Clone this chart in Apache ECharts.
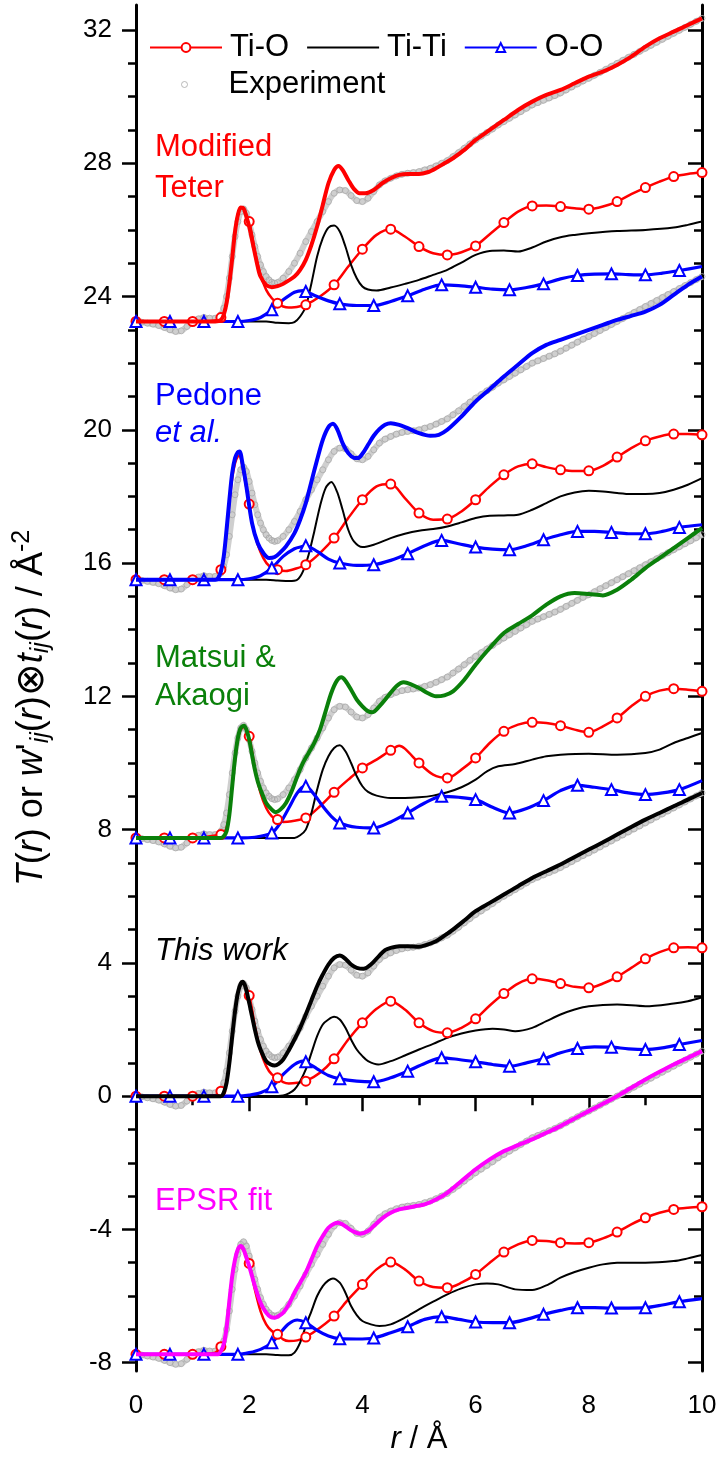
<!DOCTYPE html>
<html>
<head>
<meta charset="utf-8">
<script src="https://cdn.jsdelivr.net/npm/echarts@6/dist/echarts.min.js"></script>
<style>
  html, body { margin: 0; padding: 0; background: #fff; }
  #chart { width: 722px; height: 1460px; }
</style>
</head>
<body>
<div id="chart"></div>
<script>
const FONT = '"Liberation Sans", Arial, Helvetica, sans-serif';

// Axis ticks
const xTickLabels = [0, 2, 4, 6, 8, 10];
const yMajorTicks = [-8, -4, 0, 4, 8, 12, 16, 20, 24, 28, 32];
const yMinorTicks = [-8, -7, -6, -5, -4, -3, -2, -1, 0, 1, 2, 3, 4, 5, 6, 7, 8, 9, 10, 11, 12,
  13, 14, 15, 16, 17, 18, 19, 20, 21, 22, 23, 24, 25, 26, 27, 28, 29, 30, 31, 32];

// Panels, top to bottom: label, vertical offset of the curve set, colour of the total T(r)
const panelLabels = [['Modified', 'Teter'], ['Pedone', 'et al.'], ['Matsui &', 'Akaogi'], ['This work'], ['EPSR fit']];
const panelOffsets = [23.25, 15.5, 7.75, 0, -7.75];
const panelColors = ['#ff0000', '#0000ff', '#0a800a', '#000000', '#ff00ff'];

// Experimental T(r), [r, T] before offset
const experiment = [
  [0, 0], [0.1, -0.02], [0.2, -0.05], [0.3, -0.08], [0.4, -0.12], [0.5, -0.18], [0.6, -0.25],
  [0.7, -0.3], [0.8, -0.28], [0.9, -0.15], [1.0, -0.02], [1.1, 0.08], [1.2, 0.12], [1.3, 0.1],
  [1.4, 0.1], [1.5, 0.2], [1.55, 0.4], [1.6, 0.75], [1.65, 1.3], [1.7, 1.95], [1.75, 2.55],
  [1.8, 3.0], [1.85, 3.3], [1.9, 3.38], [1.95, 3.25], [2.0, 2.95], [2.05, 2.6], [2.1, 2.25],
  [2.15, 1.95], [2.2, 1.7], [2.25, 1.5], [2.3, 1.35], [2.35, 1.25], [2.4, 1.18], [2.45, 1.15],
  [2.5, 1.17], [2.6, 1.3], [2.7, 1.5], [2.8, 1.75], [2.9, 2.05], [3.0, 2.4], [3.1, 2.7],
  [3.2, 3.0], [3.3, 3.3], [3.4, 3.6], [3.5, 3.85], [3.6, 3.95], [3.7, 3.93], [3.8, 3.78],
  [3.9, 3.63], [4.0, 3.6], [4.1, 3.7], [4.2, 3.9], [4.3, 4.1], [4.4, 4.22], [4.5, 4.3],
  [4.6, 4.37], [4.7, 4.42], [4.8, 4.45], [4.9, 4.47], [5.0, 4.5], [5.1, 4.55], [5.2, 4.6],
  [5.3, 4.67], [5.4, 4.75], [5.5, 4.83], [5.6, 4.95], [5.7, 5.07], [5.8, 5.2], [5.9, 5.33],
  [6.0, 5.45], [6.1, 5.56], [6.2, 5.67], [6.3, 5.78], [6.4, 5.9], [6.5, 6.0], [6.6, 6.1],
  [6.7, 6.2], [6.8, 6.3], [6.9, 6.4], [7.0, 6.5], [7.1, 6.57], [7.2, 6.64], [7.3, 6.71],
  [7.4, 6.78], [7.5, 6.86], [7.6, 6.95], [7.7, 7.04], [7.8, 7.13], [7.9, 7.22], [8.0, 7.3],
  [8.1, 7.39], [8.2, 7.48], [8.3, 7.57], [8.4, 7.66], [8.5, 7.75], [8.6, 7.84], [8.7, 7.93],
  [8.8, 8.02], [8.9, 8.11], [9.0, 8.2], [9.1, 8.29], [9.2, 8.38], [9.3, 8.47], [9.4, 8.56],
  [9.5, 8.65], [9.6, 8.74], [9.7, 8.83], [9.8, 8.92], [9.9, 9.01], [10, 9.1]
];

// ---- Modified Teter ----
const totalTeter = [[0,0],[1.4,0],[1.5,0.05],[1.55,0.2],[1.6,0.55],[1.65,1.15],[1.7,1.9],[1.75,2.7],[1.8,3.2],[1.85,3.42],[1.9,3.4],[1.95,3.15],[2.0,2.85],[2.05,2.45],[2.1,2.05],[2.15,1.65],[2.2,1.35],[2.3,1.1],[2.4,1.03],[2.5,1.06],[2.6,1.13],[2.8,1.35],[2.9,1.55],[3.0,1.85],[3.1,2.3],[3.2,2.85],[3.3,3.5],[3.4,4.15],[3.5,4.55],[3.58,4.67],[3.65,4.55],[3.75,4.25],[3.85,3.98],[3.95,3.85],[4.05,3.85],[4.2,3.95],[4.35,4.15],[4.5,4.3],[4.65,4.4],[4.8,4.43],[5.0,4.43],[5.15,4.48],[5.3,4.6],[5.45,4.75],[5.6,4.9],[5.8,5.15],[6.0,5.45],[6.25,5.75],[6.5,6.05],[6.75,6.35],[7.0,6.6],[7.25,6.8],[7.5,6.95],[7.75,7.15],[8.0,7.35],[8.25,7.5],[8.5,7.7],[8.75,7.95],[9.0,8.25],[9.25,8.5],[9.5,8.7],[9.75,8.9],[10,9.1]];
const tioTeter = [[0,0],[0.5,0],[1.0,0],[1.4,0.03],[1.5,0.12],[1.55,0.25],[1.6,0.6],[1.65,1.15],[1.7,1.9],[1.75,2.7],[1.8,3.2],[1.85,3.42],[1.9,3.4],[1.95,3.2],[2.0,3.0],[2.05,2.6],[2.1,2.1],[2.2,1.4],[2.3,0.95],[2.4,0.7],[2.5,0.55],[2.6,0.45],[2.7,0.42],[2.8,0.43],[2.9,0.46],[3.0,0.5],[3.25,0.75],[3.5,1.1],[3.75,1.65],[4.0,2.17],[4.25,2.6],[4.5,2.77],[4.75,2.55],[5.0,2.25],[5.25,2.05],[5.5,2.0],[5.75,2.08],[6.0,2.27],[6.25,2.62],[6.5,2.97],[6.75,3.3],[7.0,3.47],[7.25,3.48],[7.5,3.45],[7.75,3.4],[8.0,3.37],[8.25,3.45],[8.5,3.6],[8.75,3.82],[9.0,4.02],[9.25,4.2],[9.5,4.35],[9.75,4.43],[10,4.47]];
const titiTeter = [[0,0],[2.3,0],[2.5,-0.04],[2.7,-0.05],[2.8,-0.02],[2.9,0.15],[3.0,0.45],[3.1,1.15],[3.2,1.95],[3.3,2.5],[3.4,2.82],[3.5,2.88],[3.6,2.7],[3.7,2.25],[3.8,1.7],[3.9,1.3],[4.0,1.05],[4.1,0.96],[4.25,0.93],[4.5,1.02],[4.75,1.13],[5.0,1.25],[5.25,1.4],[5.5,1.55],[5.75,1.77],[6.0,2.0],[6.25,2.12],[6.5,2.13],[6.75,2.1],[7.0,2.22],[7.25,2.4],[7.5,2.53],[7.75,2.6],[8.0,2.65],[8.5,2.72],[9.0,2.75],[9.5,2.82],[9.75,2.9],[10,3.0]];
const ooTeter = [[0,0],[0.6,0],[1.2,0],[1.8,0],[2.0,0.03],[2.2,0.12],[2.4,0.35],[2.6,0.65],[2.8,0.88],[2.95,0.93],[3.0,0.9],[3.2,0.75],[3.4,0.62],[3.6,0.53],[3.9,0.48],[4.2,0.48],[4.5,0.6],[4.8,0.77],[5.1,0.97],[5.4,1.1],[5.7,1.08],[6.0,1.03],[6.3,0.97],[6.6,0.95],[6.9,1.02],[7.2,1.13],[7.5,1.28],[7.8,1.38],[8.1,1.42],[8.4,1.43],[8.7,1.41],[9.0,1.4],[9.3,1.45],[9.6,1.53],[10,1.65]];

// ---- Pedone et al. ----
const totalPedone = [[0,0],[1.4,0],[1.45,0.05],[1.5,0.25],[1.55,0.7],[1.6,1.5],[1.65,2.4],[1.7,3.2],[1.75,3.65],[1.8,3.83],[1.83,3.85],[1.88,3.5],[1.95,2.8],[2.05,1.7],[2.15,1.1],[2.25,0.8],[2.35,0.65],[2.45,0.68],[2.55,0.82],[2.65,1.0],[2.8,1.4],[2.9,1.8],[3.0,2.3],[3.1,2.95],[3.2,3.6],[3.3,4.2],[3.4,4.58],[3.48,4.68],[3.56,4.5],[3.65,4.1],[3.75,3.8],[3.85,3.66],[3.92,3.65],[4.0,3.78],[4.1,4.05],[4.2,4.32],[4.3,4.52],[4.4,4.65],[4.5,4.7],[4.65,4.65],[4.8,4.55],[5.0,4.4],[5.2,4.32],[5.35,4.35],[5.5,4.5],[5.75,4.9],[6.0,5.35],[6.25,5.72],[6.5,6.1],[6.75,6.45],[7.0,6.8],[7.25,7.05],[7.5,7.2],[7.75,7.35],[8.0,7.5],[8.25,7.65],[8.5,7.8],[8.75,7.92],[9.0,8.05],[9.25,8.25],[9.5,8.55],[9.75,8.85],[10,9.1]];
const tioPedone = [[0,0],[0.5,0],[1.0,0],[1.4,0],[1.45,0.05],[1.5,0.3],[1.55,0.7],[1.6,1.45],[1.65,2.3],[1.7,3.05],[1.75,3.5],[1.8,3.7],[1.83,3.72],[1.88,3.4],[1.95,2.75],[2.0,2.27],[2.05,1.7],[2.15,1.05],[2.25,0.65],[2.35,0.42],[2.5,0.3],[2.65,0.26],[2.8,0.32],[3.0,0.45],[3.25,0.8],[3.5,1.25],[3.75,1.85],[4.0,2.4],[4.25,2.8],[4.5,2.87],[4.75,2.45],[5.0,2.0],[5.25,1.8],[5.5,1.82],[5.75,2.05],[6.0,2.4],[6.25,2.8],[6.5,3.15],[6.75,3.4],[7.0,3.48],[7.25,3.38],[7.5,3.3],[7.75,3.26],[8.0,3.27],[8.25,3.42],[8.5,3.68],[8.75,3.95],[9.0,4.17],[9.25,4.3],[9.5,4.37],[9.75,4.37],[10,4.35]];
const titiPedone = [[0,0],[2.3,0],[2.5,-0.02],[2.7,-0.04],[2.85,0.0],[2.95,0.25],[3.05,0.75],[3.15,1.45],[3.25,2.2],[3.35,2.75],[3.45,2.93],[3.55,2.65],[3.65,2.1],[3.75,1.5],[3.85,1.15],[4.0,0.98],[4.2,1.05],[4.5,1.25],[4.75,1.38],[5.0,1.47],[5.25,1.52],[5.5,1.6],[5.75,1.72],[6.0,1.85],[6.25,1.92],[6.5,1.93],[6.75,1.95],[7.0,2.1],[7.25,2.3],[7.5,2.5],[7.75,2.62],[8.0,2.67],[8.25,2.65],[8.5,2.6],[8.75,2.57],[9.0,2.57],[9.25,2.6],[9.5,2.7],[9.75,2.85],[10,3.05]];
const ooPedone = [[0,0],[0.6,0],[1.2,0],[1.8,0],[2.0,0.03],[2.2,0.12],[2.4,0.35],[2.6,0.7],[2.8,0.93],[2.95,1.0],[3.0,1.02],[3.2,0.85],[3.4,0.62],[3.6,0.5],[3.9,0.43],[4.2,0.45],[4.5,0.58],[4.8,0.78],[5.1,1.02],[5.4,1.18],[5.7,1.08],[6.0,0.98],[6.3,0.92],[6.6,0.9],[6.9,1.02],[7.2,1.2],[7.5,1.35],[7.8,1.45],[8.1,1.45],[8.4,1.42],[8.7,1.38],[9.0,1.38],[9.3,1.45],[9.6,1.57],[10,1.65]];

// ---- Matsui & Akaogi ----
const totalMatsui = [[0,0],[1.5,0],[1.55,0.05],[1.6,0.2],[1.65,0.7],[1.7,1.55],[1.75,2.4],[1.8,3.0],[1.85,3.3],[1.91,3.37],[1.96,3.2],[2.0,2.95],[2.05,2.5],[2.1,2.05],[2.15,1.7],[2.2,1.45],[2.3,1.05],[2.4,0.85],[2.47,0.77],[2.55,0.85],[2.65,1.05],[2.75,1.4],[2.85,1.85],[2.95,2.25],[3.05,2.55],[3.15,2.85],[3.25,3.25],[3.35,3.8],[3.45,4.35],[3.55,4.72],[3.63,4.82],[3.7,4.72],[3.8,4.45],[3.9,4.15],[4.0,3.95],[4.1,3.8],[4.17,3.77],[4.3,3.95],[4.45,4.25],[4.6,4.55],[4.73,4.67],[4.85,4.62],[5.0,4.5],[5.15,4.35],[5.3,4.25],[5.45,4.28],[5.6,4.4],[5.8,4.75],[6.0,5.2],[6.25,5.7],[6.5,6.15],[6.75,6.42],[7.0,6.68],[7.25,7.0],[7.5,7.25],[7.75,7.35],[8.0,7.32],[8.25,7.28],[8.5,7.45],[8.75,7.75],[9.0,8.1],[9.25,8.4],[9.5,8.7],[9.75,9.0],[10,9.3]];
const tioMatsui = [[0,0],[0.5,0],[1.0,0],[1.5,0.1],[1.55,0.15],[1.6,0.3],[1.65,0.75],[1.7,1.55],[1.75,2.35],[1.8,2.95],[1.85,3.25],[1.91,3.33],[1.96,3.2],[2.0,3.05],[2.05,2.6],[2.1,2.1],[2.2,1.35],[2.3,0.9],[2.4,0.65],[2.5,0.55],[2.6,0.48],[2.75,0.5],[3.0,0.6],[3.25,0.95],[3.5,1.37],[3.75,1.75],[4.0,2.1],[4.25,2.35],[4.5,2.63],[4.65,2.77],[4.75,2.68],[5.0,2.25],[5.25,1.9],[5.5,1.8],[5.75,2.05],[6.0,2.4],[6.25,2.85],[6.5,3.2],[6.75,3.4],[7.0,3.47],[7.25,3.45],[7.5,3.37],[7.75,3.25],[8.0,3.17],[8.25,3.35],[8.5,3.6],[8.75,3.95],[9.0,4.25],[9.25,4.42],[9.5,4.48],[9.75,4.45],[10,4.4]];
const titiMatsui = [[0,0],[2.5,0],[2.8,0],[2.9,0.08],[3.0,0.25],[3.1,0.75],[3.2,1.45],[3.3,2.05],[3.4,2.45],[3.5,2.7],[3.6,2.78],[3.7,2.6],[3.8,2.25],[3.9,1.85],[4.0,1.55],[4.1,1.38],[4.25,1.27],[4.5,1.2],[4.75,1.2],[5.0,1.22],[5.25,1.27],[5.5,1.37],[5.75,1.52],[6.0,1.75],[6.2,2.0],[6.4,2.15],[6.7,2.22],[7.0,2.35],[7.25,2.45],[7.5,2.5],[8.0,2.53],[8.5,2.5],[9.0,2.55],[9.25,2.65],[9.5,2.85],[9.75,3.0],[10,3.15]];
const ooMatsui = [[0,0],[0.6,0],[1.2,0],[1.8,0],[2.1,0.02],[2.4,0.15],[2.55,0.45],[2.7,0.9],[2.85,1.35],[2.97,1.55],[3.0,1.55],[3.15,1.3],[3.3,0.95],[3.45,0.65],[3.6,0.45],[3.9,0.32],[4.2,0.3],[4.5,0.48],[4.8,0.75],[5.1,1.05],[5.4,1.25],[5.7,1.22],[6.0,1.15],[6.3,0.92],[6.6,0.75],[6.9,0.88],[7.2,1.12],[7.5,1.42],[7.8,1.58],[8.1,1.52],[8.4,1.45],[8.7,1.35],[9.0,1.3],[9.3,1.35],[9.6,1.45],[10,1.72]];

// ---- This work ----
const totalThis = [[0,0],[1.5,0],[1.55,0.1],[1.6,0.4],[1.65,1.0],[1.7,1.8],[1.75,2.55],[1.8,3.1],[1.85,3.38],[1.88,3.43],[1.93,3.3],[2.0,2.8],[2.05,2.4],[2.1,2.0],[2.15,1.65],[2.2,1.4],[2.3,1.05],[2.38,0.95],[2.45,0.92],[2.52,0.97],[2.6,1.1],[2.7,1.38],[2.8,1.7],[2.9,2.05],[3.0,2.45],[3.1,2.88],[3.2,3.3],[3.3,3.65],[3.4,3.95],[3.5,4.15],[3.6,4.22],[3.7,4.12],[3.8,3.95],[3.9,3.85],[4.02,3.82],[4.15,3.95],[4.3,4.22],[4.4,4.38],[4.5,4.45],[4.65,4.5],[4.8,4.5],[5.0,4.48],[5.15,4.55],[5.3,4.65],[5.45,4.82],[5.6,5.0],[5.8,5.27],[6.0,5.55],[6.25,5.8],[6.5,6.05],[6.75,6.3],[7.0,6.55],[7.25,6.75],[7.5,6.95],[7.75,7.18],[8.0,7.4],[8.25,7.62],[8.5,7.85],[8.75,8.08],[9.0,8.3],[9.25,8.5],[9.5,8.7],[9.75,8.9],[10,9.1]];
const tioThis = [[0,0],[0.5,0],[1.0,0],[1.4,0.03],[1.5,0.15],[1.55,0.2],[1.6,0.45],[1.65,1.0],[1.7,1.8],[1.75,2.55],[1.8,3.1],[1.85,3.38],[1.88,3.42],[1.93,3.32],[2.0,3.02],[2.05,2.6],[2.1,2.1],[2.2,1.35],[2.3,0.9],[2.4,0.65],[2.5,0.55],[2.6,0.42],[2.7,0.38],[2.85,0.4],[3.0,0.45],[3.25,0.7],[3.5,1.12],[3.75,1.7],[4.0,2.2],[4.25,2.62],[4.5,2.85],[4.75,2.6],[5.0,2.2],[5.25,1.95],[5.5,1.9],[5.75,2.05],[6.0,2.32],[6.25,2.72],[6.5,3.08],[6.75,3.38],[7.0,3.52],[7.25,3.48],[7.5,3.38],[7.75,3.28],[8.0,3.25],[8.25,3.38],[8.5,3.58],[8.75,3.85],[9.0,4.12],[9.25,4.32],[9.5,4.45],[9.75,4.47],[10,4.45]];
const titiThis = [[0,0],[2.4,0],[2.6,0.02],[2.7,0.08],[2.8,0.2],[2.9,0.45],[3.0,0.8],[3.1,1.3],[3.2,1.8],[3.3,2.15],[3.4,2.3],[3.5,2.38],[3.6,2.3],[3.7,2.05],[3.8,1.7],[3.9,1.4],[4.0,1.2],[4.1,1.05],[4.28,0.95],[4.5,1.05],[4.75,1.22],[5.0,1.4],[5.25,1.57],[5.5,1.75],[5.75,1.88],[6.0,1.97],[6.3,2.02],[6.5,2.0],[6.7,1.95],[7.0,2.05],[7.25,2.25],[7.5,2.45],[7.75,2.6],[8.0,2.7],[8.5,2.75],[9.0,2.7],[9.5,2.78],[9.75,2.85],[10,2.97]];
const ooThis = [[0,0],[0.6,0],[1.2,0],[1.8,0],[2.0,0.03],[2.2,0.1],[2.4,0.28],[2.6,0.65],[2.8,0.95],[2.95,1.05],[3.0,1.03],[3.2,0.82],[3.4,0.62],[3.6,0.52],[3.9,0.45],[4.2,0.43],[4.5,0.55],[4.8,0.75],[5.1,0.98],[5.4,1.15],[5.7,1.1],[6.0,1.03],[6.3,0.95],[6.6,0.9],[6.9,1.0],[7.2,1.12],[7.5,1.3],[7.8,1.43],[8.1,1.48],[8.4,1.47],[8.7,1.42],[9.0,1.4],[9.3,1.45],[9.6,1.55],[10,1.67]];

// ---- EPSR fit ----
const totalEpsr = [[0,0],[1.45,0],[1.5,0.1],[1.55,0.3],[1.6,0.8],[1.65,1.6],[1.7,2.35],[1.75,2.85],[1.8,3.15],[1.85,3.25],[1.9,3.15],[1.95,2.9],[2.0,2.65],[2.05,2.35],[2.1,2.05],[2.2,1.55],[2.3,1.25],[2.38,1.12],[2.45,1.1],[2.52,1.15],[2.6,1.25],[2.7,1.5],[2.8,1.85],[2.9,2.15],[3.0,2.45],[3.1,2.85],[3.2,3.25],[3.3,3.55],[3.4,3.8],[3.5,3.92],[3.57,3.95],[3.65,3.9],[3.75,3.78],[3.85,3.68],[3.96,3.62],[4.1,3.7],[4.2,3.85],[4.35,4.08],[4.5,4.25],[4.65,4.35],[4.8,4.4],[4.95,4.45],[5.1,4.5],[5.3,4.65],[5.5,4.85],[5.75,5.2],[6.0,5.55],[6.25,5.85],[6.5,6.1],[6.75,6.28],[7.0,6.45],[7.25,6.65],[7.5,6.85],[7.75,7.08],[8.0,7.3],[8.25,7.52],[8.5,7.75],[8.75,8.0],[9.0,8.25],[9.25,8.48],[9.5,8.7],[9.75,8.9],[10,9.1]];
const tioEpsr = [[0,0],[0.5,0],[1.0,0],[1.4,0.05],[1.5,0.23],[1.55,0.35],[1.6,0.8],[1.65,1.6],[1.7,2.35],[1.75,2.85],[1.8,3.15],[1.85,3.22],[1.9,3.12],[1.95,2.95],[2.0,2.73],[2.05,2.35],[2.1,1.95],[2.2,1.3],[2.3,0.9],[2.4,0.7],[2.5,0.6],[2.6,0.45],[2.7,0.4],[2.85,0.42],[3.0,0.52],[3.25,0.8],[3.5,1.15],[3.75,1.65],[4.0,2.1],[4.25,2.55],[4.5,2.77],[4.75,2.55],[5.0,2.2],[5.25,2.02],[5.5,2.0],[5.75,2.15],[6.0,2.4],[6.25,2.75],[6.5,3.07],[6.75,3.3],[7.0,3.42],[7.25,3.4],[7.5,3.35],[7.75,3.33],[8.0,3.35],[8.25,3.48],[8.5,3.67],[8.75,3.9],[9.0,4.1],[9.25,4.25],[9.5,4.35],[9.75,4.4],[10,4.43]];
const titiEpsr = [[0,0],[2.3,0],[2.5,-0.02],[2.7,-0.03],[2.8,0.05],[2.9,0.35],[3.0,0.85],[3.1,1.3],[3.2,1.75],[3.3,2.05],[3.4,2.22],[3.48,2.28],[3.6,2.15],[3.7,1.85],[3.8,1.45],[3.9,1.18],[4.0,1.0],[4.15,0.9],[4.3,0.85],[4.5,0.9],[4.75,1.1],[5.0,1.35],[5.25,1.58],[5.5,1.8],[5.75,1.98],[6.0,2.1],[6.2,2.13],[6.4,2.1],[6.7,1.95],[7.0,1.93],[7.25,2.07],[7.5,2.3],[7.75,2.47],[8.0,2.6],[8.25,2.7],[8.5,2.75],[9.0,2.75],[9.5,2.8],[9.75,2.88],[10,2.98]];
const ooEpsr = [[0,0],[0.6,0],[1.2,0],[1.8,0],[2.0,0.05],[2.2,0.15],[2.4,0.35],[2.55,0.65],[2.7,0.92],[2.85,1.03],[3.0,0.95],[3.2,0.72],[3.4,0.55],[3.6,0.47],[3.9,0.46],[4.2,0.49],[4.5,0.65],[4.8,0.83],[5.1,1.05],[5.4,1.13],[5.7,1.05],[6.0,0.97],[6.3,0.95],[6.6,0.95],[6.9,1.05],[7.2,1.2],[7.5,1.32],[7.8,1.4],[8.1,1.4],[8.4,1.39],[8.7,1.39],[9.0,1.4],[9.3,1.48],[9.6,1.58],[10,1.67]];

const totals = [totalTeter, totalPedone, totalMatsui, totalThis, totalEpsr];
const tiO = [tioTeter, tioPedone, tioMatsui, tioThis, tioEpsr];
const tiTi = [titiTeter, titiPedone, titiMatsui, titiThis, titiEpsr];
const oO = [ooTeter, ooPedone, ooMatsui, ooThis, ooEpsr];

// marker spacing along r for the partial curves
const TIO_MARK_STEP = 0.5;
const OO_MARK_STEP = 0.6;

function shift(points, off) {
  return points.map(p => [p[0], +(p[1] + off).toFixed(4)]);
}
function onGrid(r, step) {
  const k = r / step;
  return Math.abs(k - Math.round(k)) < 1e-6;
}
function withMarkers(points, off, step, symbol) {
  return points.map(p => ({
    value: [p[0], +(p[1] + off).toFixed(4)],
    symbol: onGrid(p[0], step) ? symbol : 'none'
  }));
}

const EXP_RING = '#a9a9a9';
const series = [];
panelOffsets.forEach((off, i) => {
  const expData = shift(experiment, off);
  // continuous grey band of the measured curve
  series.push({
    name: 'Experiment band', type: 'line', data: expData, smooth: 0.3,
    symbol: 'none', silent: true, z: 1,
    lineStyle: { color: '#cfcfcf', width: 6 }
  });
  series.push({
    name: 'Experiment', type: 'scatter', data: expData, symbol: 'circle', symbolSize: 6,
    silent: true, z: 1,
    itemStyle: { color: 'rgba(255,255,255,0)', borderColor: EXP_RING, borderWidth: 1 }
  });
  series.push({
    name: 'Ti-O', type: 'line', data: withMarkers(tiO[i], off, TIO_MARK_STEP, 'emptyCircle'),
    smooth: 0.3, showSymbol: true, showAllSymbol: true, symbol: 'emptyCircle', symbolSize: 9, z: 3,
    lineStyle: { color: '#ff0000', width: 2.5 },
    itemStyle: { color: '#ff0000', borderWidth: 1.3 }
  });
  series.push({
    name: 'Ti-Ti', type: 'line', data: shift(tiTi[i], off), smooth: 0.3, symbol: 'none', z: 3,
    lineStyle: { color: '#000000', width: 2 },
    itemStyle: { color: '#000000' }
  });
  series.push({
    name: 'O-O', type: 'line', data: withMarkers(oO[i], off, OO_MARK_STEP, 'emptyTriangle'),
    smooth: 0.3, showSymbol: true, showAllSymbol: true, symbol: 'emptyTriangle', symbolSize: 11, z: 3,
    lineStyle: { color: '#0000ff', width: 3.2 },
    itemStyle: { color: '#0000ff', borderWidth: 1.3 }
  });
  series.push({
    name: panelLabels[i].join(' '), type: 'line', data: shift(totals[i], off), smooth: 0.3,
    symbol: 'none', z: 4,
    lineStyle: { color: panelColors[i], width: 4 }
  });
});

// panel captions
const captionCenters = [[147, 188], [396, 433], [658, 696], [951], [1201]];
const captionItalic = [[false, false], [false, true], [false, false], [true], [false]];
const graphic = [];
panelLabels.forEach((lines, i) => {
  lines.forEach((txt, j) => {
    graphic.push({
      type: 'text', left: 155, top: captionCenters[i][j] - 17, silent: true,
      style: {
        text: txt, fill: panelColors[i], fontSize: 31, fontFamily: FONT,
        fontStyle: captionItalic[i][j] ? 'italic' : 'normal', lineHeight: 34
      }
    });
  });
});

const axisLineStyle = { color: '#000', width: 3 };
const tickLineStyle = { color: '#000', width: 2.5 };
const legendText = { fontSize: 31, fontFamily: FONT, color: '#000', padding: [0, 0, 0, 3] };

const option = {
  animation: false,
  backgroundColor: '#ffffff',
  grid: { left: 136, right: 20, top: 5, bottom: 89, containLabel: false },
  legend: [
    {
      data: ['Ti-O', { name: 'Ti-Ti', itemStyle: { opacity: 0 } }, 'O-O'],
      left: 149, top: 32, padding: 0, itemGap: 17,
      itemWidth: 72, itemHeight: 11, selectedMode: false,
      textStyle: legendText
    },
    {
      data: [{
        name: 'Experiment', icon: 'circle',
        itemStyle: { color: '#ffffff', borderColor: EXP_RING, borderWidth: 1 }
      }],
      left: 181, top: 69, padding: 0,
      itemWidth: 72, itemHeight: 6, selectedMode: false,
      textStyle: legendText
    }
  ],
  xAxis: [
    {
      type: 'value', min: 0, max: 10, interval: 2, position: 'bottom',
      axisLine: { lineStyle: axisLineStyle },
      axisTick: { length: 15, lineStyle: tickLineStyle },
      minorTick: { show: true, splitNumber: 2, length: 9, lineStyle: tickLineStyle },
      splitLine: { show: false },
      axisLabel: {
        fontSize: 26, fontFamily: FONT, color: '#000', margin: 22,
        customValues: xTickLabels
      },
      name: '{i|r} / Å', nameLocation: 'middle', nameGap: 50,
      nameTextStyle: {
        fontSize: 31, fontFamily: FONT, color: '#000',
        rich: { i: { fontSize: 31, fontFamily: FONT, fontStyle: 'italic', color: '#000' } }
      }
    },
    {
      type: 'value', min: 0, max: 10, interval: 2, position: 'top',
      axisLine: { lineStyle: axisLineStyle },
      axisTick: { inside: true, length: 15, lineStyle: tickLineStyle },
      minorTick: { show: true, splitNumber: 2, length: 9, lineStyle: tickLineStyle },
      splitLine: { show: false },
      axisLabel: { show: false }
    }
  ],
  yAxis: [
    {
      type: 'value', min: -8.25, max: 32.75, position: 'left',
      axisLine: { lineStyle: axisLineStyle },
      axisTick: { length: 14, lineStyle: tickLineStyle, customValues: yMajorTicks },
      splitLine: { show: false },
      axisLabel: {
        fontSize: 26, fontFamily: FONT, color: '#000', margin: 24,
        customValues: yMajorTicks
      },
      name: '{i|T}({i|r}) or {i|w}\'{s|ij}({i|r}){o|⊗}{i|t}{s|ij}({i|r}) / Å{p|-2}',
      nameLocation: 'middle', nameGap: 82, nameRotate: 90,
      nameTextStyle: {
        fontSize: 36, fontFamily: FONT, color: '#000', lineHeight: 44,
        padding: [0, 40, 0, 0],
        rich: {
          i: { fontSize: 36, fontFamily: FONT, fontStyle: 'italic', color: '#000', lineHeight: 44 },
          o: { fontSize: 39, fontFamily: FONT, color: '#000', lineHeight: 44 },
          s: { fontSize: 25, fontFamily: FONT, fontStyle: 'italic', color: '#000', verticalAlign: 'bottom', lineHeight: 26 },
          p: { fontSize: 25, fontFamily: FONT, color: '#000', verticalAlign: 'top', lineHeight: 26 }
        }
      }
    },
    {
      type: 'value', min: -8.25, max: 32.75, position: 'left',
      axisLine: { show: false },
      axisTick: { length: 8, lineStyle: tickLineStyle, customValues: yMinorTicks },
      splitLine: { show: false },
      axisLabel: { show: false }
    },
    {
      type: 'value', min: -8.25, max: 32.75, position: 'right',
      axisLine: { lineStyle: axisLineStyle },
      axisTick: { inside: true, length: 14, lineStyle: tickLineStyle, customValues: yMajorTicks },
      splitLine: { show: false },
      axisLabel: { show: false }
    },
    {
      type: 'value', min: -8.25, max: 32.75, position: 'right',
      axisLine: { show: false },
      axisTick: { inside: true, length: 8, lineStyle: tickLineStyle, customValues: yMinorTicks },
      splitLine: { show: false },
      axisLabel: { show: false }
    }
  ],
  graphic: graphic,
  series: series
};

const chart = echarts.init(document.getElementById('chart'), null, { renderer: 'canvas' });
chart.setOption(option);
</script>
</body>
</html>
